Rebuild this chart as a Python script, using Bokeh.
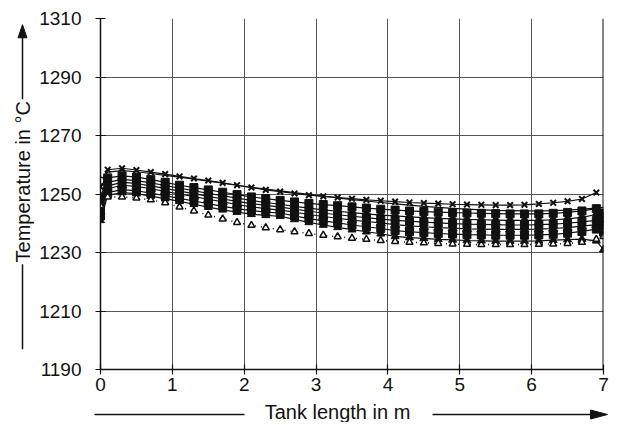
import math
from bokeh.plotting import figure
from bokeh.models import FixedTicker, Range1d, Span
from bokeh.layouts import column, row
from bokeh.core.properties import value
from bokeh.embed import file_html
from bokeh.resources import INLINE

NAN = float("nan")

# Tank length positions (m)
x = [0.0, 0.1, 0.3, 0.5, 0.7, 0.9, 1.1, 1.3, 1.5, 1.7, 1.9, 2.1, 2.3, 2.5, 2.7, 2.9,
     3.1, 3.3, 3.5, 3.7, 3.9, 4.1, 4.3, 4.5, 4.7, 4.9, 5.1, 5.3, 5.5, 5.7, 5.9,
     6.1, 6.3, 6.5, 6.7, 6.9, 7.0]

# Temperature series (°C)
temp_a = [1252.5, 1258.3, 1258.8, 1258.2, 1257.5, 1256.8, 1256.0, 1255.3, 1254.6, 1253.8,
          1253.0, 1252.2, 1251.4, 1250.8, 1250.2, 1249.6, 1249.2, 1248.8, 1248.4, 1248.0,
          1247.7, 1247.4, 1247.1, 1246.9, 1246.7, 1246.5, 1246.4, 1246.3, 1246.2, 1246.2,
          1246.3, 1246.6, 1247.0, 1247.5, 1248.3, 1250.5, NAN]
temp_b = [1254.6, 1257.5, 1258.0, 1257.6, 1257.0, 1256.4, 1255.8, 1255.1, 1254.4, 1253.7,
          1253.0, 1252.3, 1251.7, 1251.1, 1250.5, 1249.9, 1249.3, 1248.7, 1248.1, 1247.6,
          1247.1, 1246.6, 1246.2, 1245.8, 1245.4, 1245.1, 1244.8, 1244.6, 1244.4, 1244.3,
          1244.2, 1244.2, 1244.3, 1244.5, 1244.8, 1245.2, 1245.4]
temp_c = [1249.0, 1255.5, 1256.2, 1255.8, 1255.0, 1254.0, 1253.0, 1252.2, 1251.4, 1250.6,
          1249.8, 1249.0, 1248.4, 1247.8, 1247.3, 1246.8, 1246.4, 1246.0, 1245.6, 1245.2,
          1244.8, 1244.5, 1244.2, 1244.0, 1243.8, 1243.6, 1243.5, 1243.4, 1243.3, 1243.2,
          1243.2, 1243.2, 1243.4, 1243.7, 1244.2, 1245.0, 1243.5]
temp_d = [1247.0, 1254.0, 1255.0, 1254.6, 1253.8, 1252.9, 1252.0, 1251.1, 1250.2, 1249.4,
          1248.6, 1247.8, 1247.1, 1246.5, 1245.8, 1245.2, 1244.6, 1244.1, 1243.6, 1243.2,
          1242.8, 1242.5, 1242.2, 1241.9, 1241.7, 1241.5, 1241.3, 1241.2, 1241.1, 1241.0,
          1241.0, 1241.0, 1241.2, 1241.5, 1242.0, 1243.0, 1242.0]
temp_e = [1245.0, 1252.8, 1254.0, 1253.6, 1252.8, 1251.9, 1251.0, 1250.1, 1249.2, 1248.3,
          1247.5, 1246.7, 1246.1, 1245.5, 1244.8, 1244.1, 1243.5, 1242.9, 1242.4, 1241.9,
          1241.4, 1241.0, 1240.7, 1240.4, 1240.1, 1239.9, 1239.7, 1239.6, 1239.5, 1239.4,
          1239.4, 1239.5, 1239.7, 1240.0, 1240.5, 1241.0, 1240.5]
temp_f = [1244.0, 1251.8, 1253.0, 1252.6, 1251.8, 1250.9, 1250.0, 1249.1, 1248.2, 1247.3,
          1246.4, 1245.6, 1245.0, 1244.5, 1243.8, 1243.0, 1242.3, 1241.7, 1241.1, 1240.6,
          1240.1, 1239.5, 1239.1, 1238.8, 1238.5, 1238.3, 1238.1, 1238.0, 1237.9, 1237.9,
          1237.9, 1238.0, 1238.2, 1238.5, 1239.0, 1239.5, 1239.0]
temp_g = [1242.5, 1250.5, 1251.5, 1251.1, 1250.3, 1249.4, 1248.5, 1247.6, 1246.7, 1245.8,
          1245.0, 1244.3, 1243.8, 1243.5, 1242.5, 1241.6, 1240.8, 1240.1, 1239.4, 1238.8,
          1238.2, 1237.5, 1237.1, 1236.8, 1236.5, 1236.3, 1236.1, 1236.0, 1235.9, 1235.9,
          1235.9, 1236.0, 1236.2, 1236.6, 1237.2, 1238.0, 1237.0]
temp_h = [1246.0, 1249.0, 1249.0, 1248.6, 1248.0, 1247.0, 1245.6, 1244.2, 1242.8, 1241.5,
          1240.3, 1239.3, 1238.5, 1237.8, 1237.1, 1236.5, 1235.9, 1235.4, 1234.9, 1234.5,
          1234.1, 1233.8, 1233.5, 1233.3, 1233.1, 1232.9, 1232.8, 1232.7, 1232.7, 1232.7,
          1232.7, 1232.8, 1232.9, 1233.1, 1233.5, 1234.5, 1235.5]
temp_i = [1241.0, 1249.5, 1250.5, 1250.1, 1249.3, 1248.4, 1247.5, 1246.5, 1245.5, 1244.6,
          1243.8, 1243.1, 1242.7, 1242.4, 1241.3, 1240.3, 1239.4, 1238.6, 1237.8, 1237.1,
          1236.4, 1235.5, 1235.1, 1234.8, 1234.5, 1234.3, 1234.1, 1234.0, 1233.9, 1233.9,
          1233.9, 1234.0, 1234.2, 1234.4, 1234.6, 1234.0, 1231.0]

x_ticks = [0, 1, 2, 3, 4, 5, 6, 7]
y_ticks = [1190, 1210, 1230, 1250, 1270, 1290, 1310]
x_title = "Tank length in m"
y_title = "Temperature in °C"

FONT = "Liberation Sans"
INK = "#111111"

LEFT_W = 34
MAIN_W = 579
MAIN_H = 400
BOTTOM_H = 22


def blank(width, height, xr, yr):
    f = figure(width=width, height=height, output_backend="svg", toolbar_location=None,
               x_range=Range1d(*xr), y_range=Range1d(*yr),
               x_axis_type=None, y_axis_type=None,
               min_border_left=0, min_border_right=0, min_border_top=0, min_border_bottom=0)
    f.outline_line_color = None
    f.grid.visible = False
    f.background_fill_color = "white"
    f.border_fill_color = "white"
    return f


# ---------------- main chart ----------------
p = figure(width=MAIN_W, height=MAIN_H, output_backend="svg", toolbar_location=None,
           x_range=Range1d(0, 7), y_range=Range1d(1190, 1310),
           min_border_left=66, min_border_right=10, min_border_top=18, min_border_bottom=31)
p.outline_line_color = None
p.background_fill_color = "white"
p.border_fill_color = "white"

p.xaxis.ticker = FixedTicker(ticks=x_ticks)
p.yaxis.ticker = FixedTicker(ticks=y_ticks)
for ax in (p.xaxis, p.yaxis):
    ax.axis_line_color = INK
    ax.axis_line_width = 1.5
    ax.major_tick_line_color = INK
    ax.major_tick_line_width = 1.2
    ax.major_tick_in = 5
    ax.major_tick_out = 5
    ax.minor_tick_line_color = None
    ax.major_label_text_font = FONT
    ax.major_label_text_font_size = "19px"
    ax.major_label_text_color = INK
p.yaxis.major_label_standoff = 14
p.xaxis.major_label_standoff = 3

p.grid.grid_line_color = "#555555"
p.grid.grid_line_width = 1

p.add_layout(Span(location=7, dimension="height", line_color=INK, line_width=2))

p.line(x, temp_a, line_color=INK, line_width=1.2)
p.scatter(x, temp_a, marker="x", size=8, line_color=INK, line_width=2)

p.line(x, temp_b, line_color=INK, line_width=1.2)
p.scatter(x[:1], temp_b[:1], marker="circle", size=7, line_color=INK, fill_color="white", line_width=1.2)

p.line(x, temp_c, line_color=INK, line_width=1.2)
p.scatter(x, temp_c, marker="square", size=8, color=INK)

p.line(x, temp_d, line_color=INK, line_width=1.2)
p.scatter(x, temp_d, marker="diamond", size=10, color=INK)

p.line(x, temp_e, line_color=INK, line_width=1.2)
p.scatter(x, temp_e, marker="square", size=8, color=INK)

p.line(x, temp_f, line_color=INK, line_width=1.2)
p.scatter(x, temp_f, marker="triangle", size=9, color=INK)

p.line(x, temp_g, line_color=INK, line_width=1.2)
p.scatter(x, temp_g, marker="square", size=8, color=INK)

p.line(x, temp_i, line_color=INK, line_width=1.2)
p.scatter(x, temp_i, marker="triangle", size=8, color=INK)

p.line(x, temp_h, line_color=INK, line_width=1.5, line_dash="1 5")
p.scatter(x, temp_h, marker="triangle", size=7, line_color=INK, fill_color="white", line_width=1.5)

# ---------------- y title strip (pixel coords, y downwards) ----------------
ly = blank(LEFT_W, MAIN_H, (0, LEFT_W), (MAIN_H, 0))
ly.segment(x0=[22, 22], y0=[92, 280], x1=[22, 22], y1=[20, 377], line_color=INK, line_width=1.5)
ly.patch(x=[17.5, 26.5, 22], y=[22, 22, 7], fill_color=INK, line_color=INK)
ly.text(x=[22], y=[186], text=[y_title], angle=math.pi / 2, text_align="center",
        text_baseline="middle", text_font=value(FONT), text_font_size="20px", text_color=INK)

# ---------------- x title strip ----------------
TOTAL_W = LEFT_W + MAIN_W
bx = blank(TOTAL_W, BOTTOM_H, (0, TOTAL_W), (BOTTOM_H, 0))
bx.segment(x0=[94, 432], y0=[14, 14], x1=[244, 592], y1=[14, 14], line_color=INK, line_width=1.5)
bx.patch(x=[590, 590, 607], y=[9.5, 18.5, 14], fill_color=INK, line_color=INK)
bx.text(x=[337], y=[11], text=[x_title], text_align="center", text_baseline="middle",
        text_font=value(FONT), text_font_size="20px", text_color=INK)

layout = column(row(ly, p, spacing=0), bx, spacing=0)

open("out.html", "w").write(file_html(layout, INLINE))
